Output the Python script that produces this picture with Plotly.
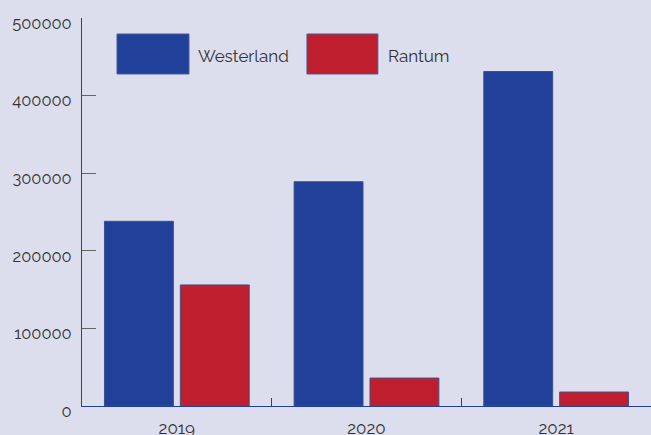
import plotly.graph_objects as go

years = ["2019", "2020", "2021"]
westerland = [238000, 289000, 431000]
rantum = [156000, 36000, 18000]
y_ticks = [0, 100000, 200000, 300000, 400000, 500000]

blue = "#21409a"
red = "#be1e2d"
bg = "#dcdeed"
font_family = "Raleway, Lato, sans-serif"

fig = go.Figure()
fig.add_trace(go.Bar(x=years, y=westerland, name="Westerland",
                     marker=dict(color=blue, line=dict(color="#3b4f8c", width=1))))
fig.add_trace(go.Bar(x=years, y=rantum, name="Rantum",
                     marker=dict(color=red, line=dict(color="#4a4f86", width=1))))

# hand-made legend with big swatches
legend_items = [("Westerland", blue, 0.0615, 0.188, 0.2004),
                ("Rantum", red, 0.3954, 0.520, 0.534)]
for name, col, x0, x1, tx in legend_items:
    fig.add_shape(type="rect", xref="paper", yref="paper",
                  x0=x0, x1=x1, y0=0.8557, y1=0.9588,
                  fillcolor=col, line=dict(color="#4a5a96", width=1))
    fig.add_annotation(xref="paper", yref="paper", x=tx, y=0.902,
                       text=name, showarrow=False, xanchor="left", yanchor="middle",
                       font=dict(size=17, color="#333333", family=font_family))

fig.update_layout(
    width=651, height=435,
    margin=dict(l=82, r=0, t=18, b=29),
    paper_bgcolor=bg, plot_bgcolor=bg,
    barmode="group", bargap=0.2, bargroupgap=0.092,
    showlegend=False,
    font=dict(family=font_family, size=17, color="#333333"),
)
fig.update_xaxes(showline=True, linecolor=blue, linewidth=1, automargin=False,
                 ticks="inside", tickson="boundaries", ticklen=8, tickcolor=blue,
                 showgrid=False, tickfont=dict(size=17), ticklabelstandoff=7)
fig.update_yaxes(range=[0, 500000], tickvals=y_ticks, tickformat="d",
                 showline=True, linecolor=blue, automargin=False,
                 linewidth=1, ticks="inside", ticklen=14, tickcolor="#666666",
                 showgrid=False, zeroline=False, ticklabelstandoff=6,
                 ticklabelshift=5, tickfont=dict(size=16.5))

fig.write_html("out.html", config={"displayModeBar": False},
               post_script="document.body.style.margin='0';")
